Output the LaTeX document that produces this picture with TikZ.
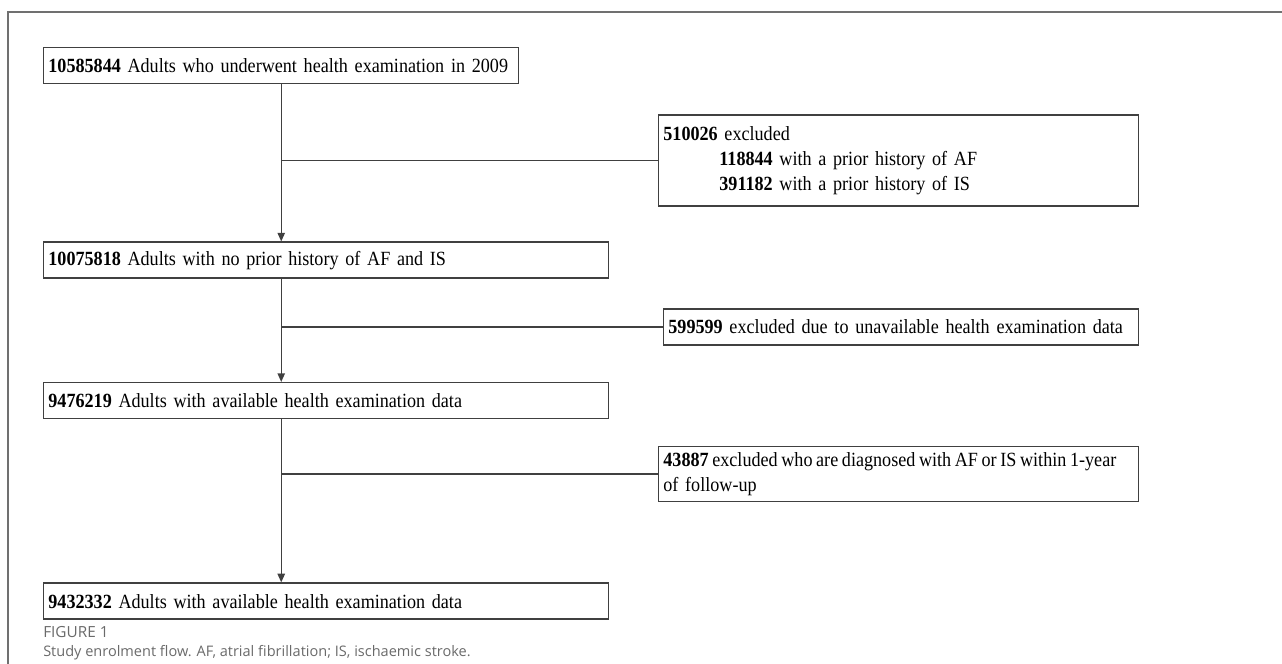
\documentclass[tikz,border=0pt]{standalone}
\usepackage{fontspec}
\setmainfont{Liberation Serif}[FakeStretch=0.9]
\newfontfamily\capfont{Open Sans}
\usetikzlibrary{arrows.meta,positioning}

\definecolor{boxgray}{HTML}{404040}
\definecolor{framegray}{HTML}{707070}
\definecolor{capgray}{HTML}{6A6A6A}

\tikzset{
  flowbox/.style={draw=boxgray,line width=1.1pt,fill=white,inner xsep=3.5pt,
                  inner ysep=2pt,minimum height=27pt,align=left,
                  font=\fontsize{15.1}{18.75}\selectfont},
  mainbox/.style={flowbox,text width=349.25pt},
  widebox/.style={flowbox,text width=416.75pt},
  exclbox/.style={flowbox,text width=353pt},
  flow/.style={draw=boxgray,line width=1.1pt},
  >={Triangle[length=6.5pt,width=5.5pt]}
}

\begin{document}
\begin{tikzpicture}
  \useasboundingbox (0,0) rectangle (961.5pt,-498pt);
  \draw[framegray,line width=1.1pt] (6pt,-498pt) |- (961.5pt,-9pt);

  % main column
  \node[mainbox,anchor=north west] (screened) at (32.25pt,-35.25pt)
        {\mbox{\textbf{10585844} Adults who underwent health examination in 2009}};
  \node[widebox,below=117.75pt of screened.south west,anchor=north west] (noprior)
        {\mbox{\textbf{10075818} Adults with no prior history of AF and IS}};
  \node[widebox,below=77.25pt of noprior]  (available)
        {\mbox{\textbf{9476219} Adults with available health examination data}};
  \node[widebox,below=122.25pt of available] (final)
        {\mbox{\textbf{9432332} Adults with available health examination data}};

  % exclusions
  \node[exclbox,minimum height=68.25pt,anchor=west] (priorexcl) at (493.5pt,-120.4pt)
        {\textbf{510026} excluded\\
         \hspace*{42pt}\textbf{118844} with a prior history of AF\\
         \hspace*{42pt}\textbf{391182} with a prior history of IS};
  \node[exclbox,text width=349.25pt,anchor=west] (dataexcl) at (497.25pt,-245.25pt)
        {\mbox{\textbf{599599} excluded due to unavailable health examination data}};
  \node[exclbox,minimum height=41.25pt,anchor=west] (yearexcl) at (493.5pt,-355.5pt)
        {\mbox{\spaceskip=0.18em\textbf{43887} excluded who are diagnosed with AF or IS within 1-year}\\of follow-up};

  \draw[flow,->] (screened) -- (screened |- noprior.north);
  \draw[flow,->] (screened |- noprior.south) -- (screened |- available.north);
  \draw[flow,->] (screened |- available.south) -- (screened |- final.north);
  \draw[flow] (priorexcl.west) -- (priorexcl.west -| screened.south);
  \draw[flow] (dataexcl.west)  -- (dataexcl.west -| screened.south);
  \draw[flow] (yearexcl.west)  -- (yearexcl.west -| screened.south);

  % caption
  \node[anchor=west,inner sep=0,text=capgray,font=\capfont\fontsize{11.5}{12}\selectfont]
        (figlabel) at (32.25pt,-474pt) {FIGURE 1};
  \node[anchor=west,inner sep=0,text=capgray,font=\capfont\fontsize{10.9}{12}\selectfont]
        (caption) at (32.25pt,-489.75pt)
        {Study enrolment flow. AF, atrial fibrillation; IS, ischaemic stroke.};
\end{tikzpicture}
\end{document}
